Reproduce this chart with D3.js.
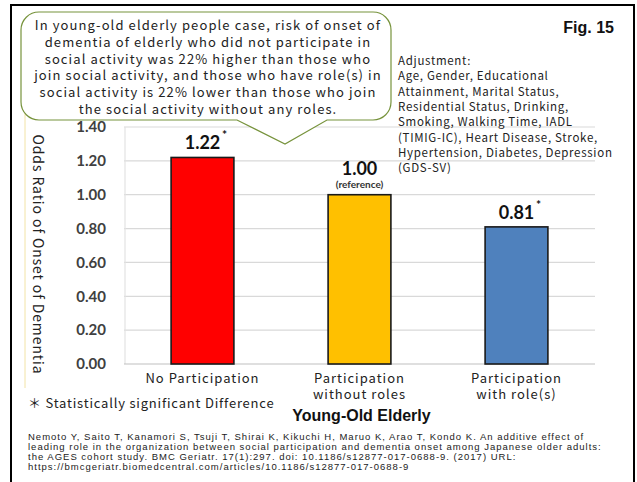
<!DOCTYPE html>
<html>
<head>
<meta charset="utf-8">
<script src="https://cdn.jsdelivr.net/npm/d3@7"></script>
<style>
  html, body { margin: 0; padding: 0; background: #fff; }
  svg { display: block; }
  .jp { font-family: "Noto Sans CJK JP", "DejaVu Sans", sans-serif; }
  .num { font-family: Lato, "Liberation Sans", sans-serif; font-weight: bold; }
  .arial { font-family: "Liberation Sans", Arial, sans-serif; }
</style>
</head>
<body>
<script>
// Odds ratios of dementia onset, young-old elderly
const categories = [
  ["No Participation"],
  ["Participation", "without roles"],
  ["Participation", "with role(s)"]
];
const oddsRatios = [1.22, 1.00, 0.81];
const significant = [true, false, true];
const notes = ["", "(reference)", ""];
const barColors = ["#ff0000", "#ffc000", "#4f81bd"];
const yTicks = [0, 0.2, 0.4, 0.6, 0.8, 1.0, 1.2, 1.4];

const calloutLines = [
  "In young-old elderly people case, risk of onset of",
  "dementia of elderly who did not participate in",
  "social activity was 22%  higher than those who",
  "join social activity, and those who have role(s) in",
  "social activity is 22%  lower than those who join",
  "the social activity without any roles."
];
const adjustmentLines = [
  "Adjustment:",
  "Age, Gender, Educational",
  "Attainment, Marital Status,",
  "Residential Status, Drinking,",
  "Smoking, Walking Time, IADL",
  "(TIMIG-IC), Heart Disease, Stroke,",
  "Hypertension, Diabetes, Depression",
  "(GDS-SV)"
];
const citationLines = [
  "Nemoto Y, Saito T, Kanamori S, Tsuji T, Shirai K, Kikuchi H, Maruo K, Arao T, Kondo K. An additive effect of",
  "leading role in the organization between social participation and dementia onset among Japanese older adults:",
  "the AGES cohort study. BMC Geriatr. 17(1):297. doi: 10.1186/s12877-017-0688-9. (2017) URL:",
  "https://bmcgeriatr.biomedcentral.com/articles/10.1186/s12877-017-0688-9"
];

const W = 637, H = 482;
const svg = d3.select("body").append("svg").attr("width", W).attr("height", H);

// outer frame
svg.append("rect").attr("x", 11).attr("y", 5).attr("width", 623).attr("height", 490)
  .attr("fill", "none").attr("stroke", "#000").attr("stroke-width", 2);

// thin yellow edge of the chart block
svg.append("line").attr("x1", 25).attr("x2", 25).attr("y1", 100).attr("y2", 388)
  .attr("stroke", "#f2e3a6").attr("stroke-width", 1);

const plot = { left: 124, right: 595, top: 127, bottom: 364 };
const x = d3.scaleBand().domain(d3.range(categories.length))
  .range([plot.left, plot.right]).paddingInner(0.6).paddingOuter(0.3);
const y = d3.scaleLinear().domain([0, 1.4]).range([plot.bottom, plot.top]);
const cxOf = i => x(i) + x.bandwidth() / 2;

// gridlines
svg.append("g").selectAll("line").data(yTicks.slice(1)).join("line")
  .attr("x1", plot.left).attr("x2", plot.right)
  .attr("y1", d => y(d)).attr("y2", d => y(d))
  .attr("stroke", "#d9d9d9").attr("stroke-width", 1.2);
svg.append("line").attr("x1", plot.left + 1).attr("x2", plot.left + 1)
  .attr("y1", y(1.4)).attr("y2", y(0)).attr("stroke", "#e3e3e3").attr("stroke-width", 1.2);
svg.append("line").attr("x1", plot.left).attr("x2", plot.right)
  .attr("y1", y(0)).attr("y2", y(0)).attr("stroke", "#bfbfbf").attr("stroke-width", 1.2);

// y axis tick labels
const yAxis = d3.axisLeft(y).tickValues(yTicks).tickFormat(d3.format(".2f")).tickSize(0).tickPadding(0);
const gy = svg.append("g").attr("transform", `translate(106,0)`).call(yAxis);
gy.select(".domain").remove();
gy.selectAll("text").attr("class", "num").attr("font-size", 15).attr("fill", "#404040");

// y axis title
svg.append("text").attr("class", "jp")
  .attr("transform", `translate(33,${(plot.top + plot.bottom) / 2 + 9}) rotate(90)`)
  .attr("text-anchor", "middle").attr("font-size", 14).attr("letter-spacing", 0.9)
  .attr("fill", "#222").text("Odds Ratio of Onset of Dementia");

// bars
const barData = oddsRatios.map((v, i) => ({ i, v, sig: significant[i], note: notes[i] }));
svg.append("g").selectAll("rect").data(barData).join("rect")
  .attr("x", d => x(d.i)).attr("width", x.bandwidth())
  .attr("y", d => y(d.v)).attr("height", d => y(0) - y(d.v))
  .attr("fill", d => barColors[d.i]).attr("stroke", "#1a1a1a").attr("stroke-width", 1.6);

// value labels
const vl = svg.append("g").selectAll("g").data(barData).join("g");
vl.append("text").attr("class", "num")
  .attr("x", d => cxOf(d.i))
  .attr("y", d => y(d.v) - (d.note ? 20 : 8))
  .attr("text-anchor", "middle").attr("font-size", 18).attr("fill", "#111")
  .text(d => d.v.toFixed(2));
vl.filter(d => d.sig).append("text").attr("class", "num")
  .attr("x", d => cxOf(d.i) + 22)
  .attr("y", d => y(d.v) - 18)
  .attr("text-anchor", "middle").attr("font-size", 12).attr("fill", "#111").text("*");
vl.filter(d => d.note).append("text").attr("class", "num")
  .attr("x", d => cxOf(d.i))
  .attr("y", d => y(d.v) - 7)
  .attr("text-anchor", "middle").attr("font-size", 10).attr("fill", "#333")
  .text(d => d.note);

// category labels
const cl = svg.append("g").selectAll("text").data(categories.map((c, i) => ({ c, i }))).join("text")
  .attr("class", "jp").attr("text-anchor", "middle").attr("font-size", 13)
  .attr("letter-spacing", 1).attr("fill", "#222")
  .attr("x", d => cxOf(d.i)).attr("y", 383);
cl.selectAll("tspan").data(d => d.c.map(t => ({ t, i: d.i }))).join("tspan")
  .attr("x", d => cxOf(d.i))
  .attr("dy", (d, j) => j === 0 ? 0 : 16).text(d => d.t);

// axis group title, centred under the middle category
svg.append("text").attr("class", "arial").attr("font-weight", "bold").attr("font-size", 16)
  .attr("text-anchor", "middle").attr("x", cxOf(1) + 2).attr("y", 421).attr("fill", "#111")
  .text("Young-Old Elderly");

// significance note
svg.append("text").attr("class", "jp").attr("font-size", 13).attr("letter-spacing", 0.8)
  .attr("x", 28).attr("y", 408).attr("fill", "#222")
  .text("\uFF0A Statistically significant Difference");

// figure number
svg.append("text").attr("class", "arial").attr("font-weight", "bold").attr("font-size", 16)
  .attr("text-anchor", "end").attr("x", 614).attr("y", 33).attr("fill", "#111").text("Fig. 15");

// adjustment list
svg.append("g").selectAll("text").data(adjustmentLines).join("text")
  .attr("class", "jp").attr("font-size", 11.5).attr("letter-spacing", 0.7).attr("fill", "#222")
  .attr("x", 398).attr("y", (d, i) => 65 + i * 15.3).text(d => d);

// callout with pointer
const cx0 = 21, cx1 = 391, cy0 = 12, cy1 = 120, r = 18;
const p = d3.path();
p.moveTo(cx0 + r, cy0);
p.lineTo(cx1 - r, cy0);
p.arcTo(cx1, cy0, cx1, cy0 + r, r);
p.lineTo(cx1, cy1 - r);
p.arcTo(cx1, cy1, cx1 - r, cy1, r);
p.lineTo(327, cy1);
p.lineTo(285, 144);
p.lineTo(237, cy1);
p.lineTo(cx0 + r, cy1);
p.arcTo(cx0, cy1, cx0, cy1 - r, r);
p.lineTo(cx0, cy0 + r);
p.arcTo(cx0, cy0, cx0 + r, cy0, r);
p.closePath();
svg.append("path").attr("d", p.toString()).attr("fill", "#fff")
  .attr("stroke", "#77933c").attr("stroke-width", 1.2);

svg.append("g").selectAll("text").data(calloutLines).join("text")
  .attr("class", "jp").attr("font-size", 13).attr("letter-spacing", 1.1).attr("fill", "#222")
  .attr("text-anchor", "middle").attr("x", 208).attr("y", (d, i) => 30 + i * 16.8).text(d => d);

// citation
svg.append("g").selectAll("text").data(citationLines).join("text")
  .attr("class", "arial").attr("font-size", 9.5).attr("letter-spacing", 1.0).attr("fill", "#222")
  .attr("x", 28).attr("y", (d, i) => 439.5 + i * 10.3).text(d => d);
</script>
</body>
</html>
